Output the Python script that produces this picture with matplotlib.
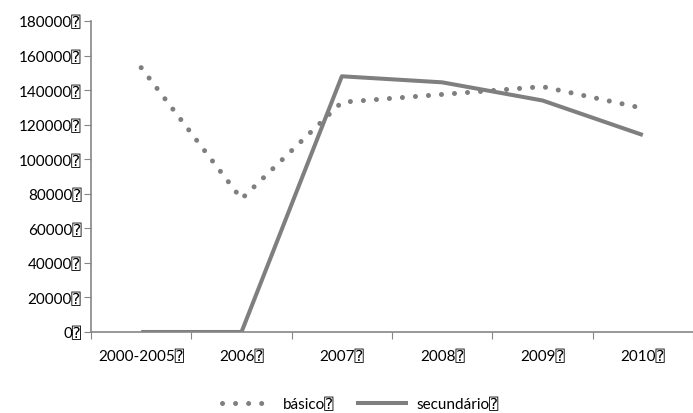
import matplotlib
matplotlib.use("Agg")
import matplotlib.pyplot as plt

# dados
anos = ['2000-2005', '2006', '2007', '2008', '2009', '2010']
basico = [153000, 77000, 133000, 137500, 142000, 129500]
secundario = [0, 0, 148000, 144500, 134000, 114000]
y_ticks = [0, 20000, 40000, 60000, 80000, 100000, 120000, 140000, 160000, 180000]

box = '\u2370'  # the missing-glyph box that follows every label
cinza = '#7f7f7f'
eixo = '#868686'

plt.rcParams['font.family'] = ['Lato', 'DejaVu Sans', 'DejaVu Sans Mono']
plt.rcParams['font.size'] = 11

fig = plt.figure(figsize=(6.93, 4.14), dpi=100)
ax = fig.add_axes([91 / 693, 1 - 333 / 414, (693 - 91) / 693, (333 - 22) / 414])

x = list(range(len(anos)))
ax.plot(x, basico, color=cinza, lw=3.6, linestyle=(0, (0.01, 2.6)),
        dash_capstyle='round', solid_capstyle='round', label='básico' + box)
ax.plot(x, secundario, color=cinza, lw=2.9, solid_capstyle='butt',
        label='secundário' + box)

ax.set_xlim(-0.5, len(anos) - 0.5)
ax.set_ylim(0, 180000)
ax.set_yticks(y_ticks)
ax.set_yticklabels([str(v) + box for v in y_ticks])

# category labels at centres, tick marks between categories
ax.set_xticks([i - 0.5 for i in range(len(anos) + 1)])
ax.set_xticklabels([])
ax.set_xticks(x, minor=True)
ax.set_xticklabels([a + box for a in anos], minor=True)
ax.tick_params(axis='x', which='minor', length=0, pad=12)
ax.tick_params(axis='x', which='major', length=5, direction='out', color=eixo)
ax.tick_params(axis='y', length=5, direction='out', color=eixo, pad=2)

for s in ['top', 'right']:
    ax.spines[s].set_visible(False)
for s in ['left', 'bottom']:
    ax.spines[s].set_color(eixo)
    ax.spines[s].set_linewidth(1.2)

leg = fig.legend(loc='center', bbox_to_anchor=(0.52, 1 - 405 / 414), ncol=2,
                 frameon=False, handlelength=3.4, columnspacing=1.4, handletextpad=0.6)

fig.savefig('out.png', dpi=100)
